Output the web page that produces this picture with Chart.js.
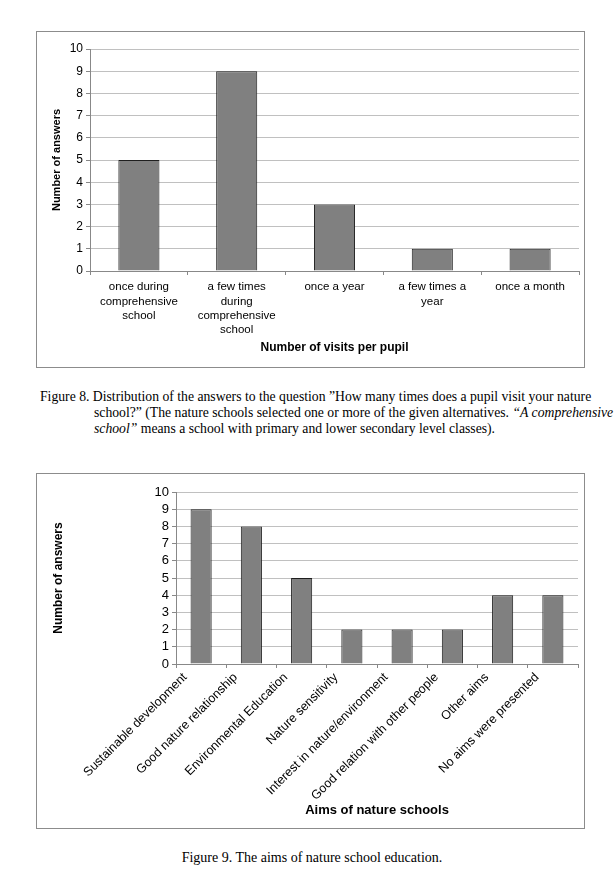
<!DOCTYPE html>
<html>
<head>
<meta charset="utf-8">
<script src="https://cdn.jsdelivr.net/npm/chart.js@4.4.0/dist/chart.umd.min.js"></script>
<style>
  html, body { margin: 0; padding: 0; background: #fff; width: 616px; height: 878px; overflow: hidden; }
  .box { position: absolute; border: 1px solid #8c8c8c; box-sizing: border-box; }
  .box canvas { display: block; }
  .cap { position: absolute; font-family: "Liberation Serif", "Times New Roman", serif; font-size: 13.7px; color: #000; white-space: nowrap; }
</style>
</head>
<body>
<div class="box" style="left:36px; top:31px; width:549px; height:337px;">
  <canvas id="visitsChart" width="547" height="335" style="width:547px;height:335px"></canvas>
</div>
<div class="cap" style="left:40px; top:389px;">Figure 8. Distribution of the answers to the question ”How many times does a pupil visit your nature</div>
<div class="cap" style="left:94px; top:405px;">school?” (The nature schools selected one or more of the given alternatives. <i>“A comprehensive</i></div>
<div class="cap" style="left:94px; top:421px;"><i>school”</i> means a school with primary and lower secondary level classes).</div>

<div class="box" style="left:36px; top:473px; width:549px; height:356px;">
  <canvas id="aimsChart" width="547" height="354" style="width:547px;height:354px"></canvas>
</div>
<div class="cap" style="left:0; width:624px; text-align:center; top:850px; font-size:14px;">Figure 9. The aims of nature school education.</div>

<script>
// figure 8 data
const visitLabels = [
  ['once during', 'comprehensive', 'school'],
  ['a few times', 'during', 'comprehensive', 'school'],
  'once a year',
  ['a few times a', 'year'],
  'once a month'
];
const visitCounts = [5, 9, 3, 1, 1];

// figure 9 data
const aimLabels = [
  'Sustainable development',
  'Good nature relationship',
  'Environmental Education',
  'Nature sensitivity',
  'Interest in nature/environment',
  'Good relation with other people',
  'Other aims',
  'No aims were presented'
];
const aimCounts = [9, 8, 5, 2, 2, 2, 4, 4];

const yTicks = [0, 1, 2, 3, 4, 5, 6, 7, 8, 9, 10];

const FONT = '"Liberation Sans", Arial, sans-serif';
const BAR_FILL = '#808080';
const BAR_EDGE = '#1e1e1e';
const GRID = '#c0c0c0';

Chart.defaults.font.family = FONT;
Chart.defaults.color = '#000';

const visitsCtx = document.getElementById('visitsChart').getContext('2d');
const aimsCtx = document.getElementById('aimsChart').getContext('2d');

window.visitsChartInstance = new Chart(visitsCtx, {
  type: 'bar',
  data: {
    labels: visitLabels,
    datasets: [{
      data: visitCounts,
      backgroundColor: BAR_FILL,
      borderColor: BAR_EDGE,
      borderWidth: 1,
      categoryPercentage: 1,
      barPercentage: 0.42
    }]
  },
  options: {
    responsive: false,
    animation: false,
    layout: { padding: { top: 17, right: 5, left: 0, bottom: 0 } },
    plugins: { legend: { display: false }, tooltip: { enabled: false } },
    scales: {
      x: {
        afterFit: (s) => { s.height = 96; },
        grid: { display: true, drawOnChartArea: false, color: '#888', tickLength: 4 },
        border: { color: '#888' },
        ticks: { font: { size: 11.5, lineHeight: 1.25 }, maxRotation: 0, minRotation: 0, autoSkip: false, padding: 5 },
        title: { display: true, text: 'Number of visits per pupil', font: { size: 12, weight: 'bold' }, padding: { top: 0, bottom: 12 } }
      },
      y: {
        min: 0, max: 10,
        afterFit: (s) => { s.width = 53; },
        afterBuildTicks: (s) => { s.ticks = yTicks.map(v => ({ value: v })); },
        grid: { color: GRID, tickLength: 4, tickColor: '#888' },
        border: { color: '#888' },
        ticks: { font: { size: 12 }, padding: 3, autoSkip: false },
        title: { display: true, text: 'Number of answers', font: { size: 11, weight: 'bold' }, padding: { top: 13, bottom: 0 } }
      }
    }
  }
});

window.aimsChartInstance = new Chart(aimsCtx, {
  type: 'bar',
  data: {
    labels: aimLabels,
    datasets: [{
      data: aimCounts,
      backgroundColor: BAR_FILL,
      borderColor: BAR_EDGE,
      borderWidth: 1,
      categoryPercentage: 1,
      barPercentage: 0.42
    }]
  },
  options: {
    responsive: false,
    animation: false,
    layout: { padding: { top: 18, right: 6, left: 0, bottom: 0 } },
    plugins: { legend: { display: false }, tooltip: { enabled: false } },
    scales: {
      x: {
        afterFit: (s) => { s.height = 164; },
        grid: { display: true, drawOnChartArea: false, color: '#888', tickLength: 4 },
        border: { color: '#888' },
        ticks: { font: { size: 12.5 }, maxRotation: 45, minRotation: 45, autoSkip: false, padding: 2, labelOffset: -16 },
        title: { display: true, text: 'Aims of nature schools', font: { size: 13, weight: 'bold' }, padding: { top: 0, bottom: 10 } }
      },
      y: {
        min: 0, max: 10,
        afterFit: (s) => { s.width = 139; },
        afterBuildTicks: (s) => { s.ticks = yTicks.map(v => ({ value: v })); },
        grid: { color: GRID, tickLength: 4, tickColor: '#888' },
        border: { color: '#888' },
        ticks: { font: { size: 13 }, padding: 3, autoSkip: false },
        title: { display: true, text: 'Number of answers', font: { size: 12, weight: 'bold' }, padding: { top: 14, bottom: 0 } }
      }
    }
  }
});
</script>
</body>
</html>
